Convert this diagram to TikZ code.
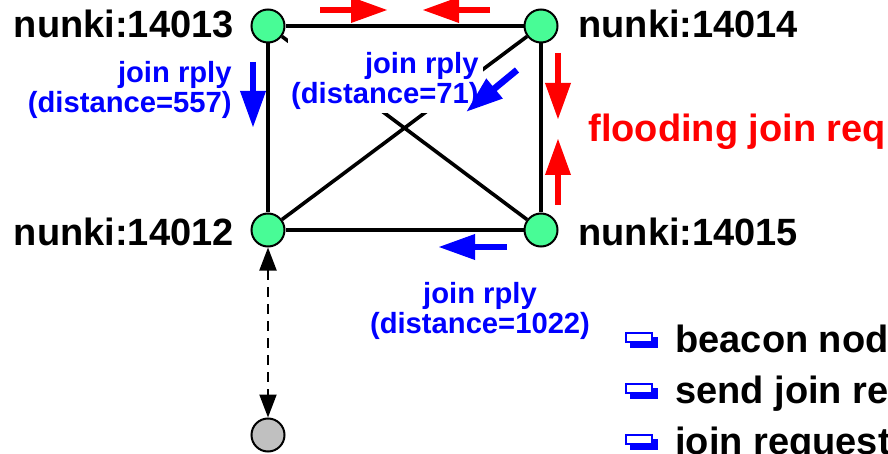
\documentclass[tikz,border=0pt]{standalone}
\usepackage{fontspec}
\setmainfont{Liberation Sans}
\usetikzlibrary{arrows.meta}

\definecolor{peergreen}{RGB}{72,252,150}
\definecolor{beacongray}{RGB}{192,192,192}

\tikzset{
  peer/.style={circle, draw, line width=1pt, fill=peergreen, minimum size=16.5pt, inner sep=0pt},
  beacon/.style={peer, fill=beacongray},
  link/.style={line width=1.8pt},
  hostname/.style={font=\fontsize{19}{21}\selectfont\bfseries, inner sep=0pt},
  rply/.style={text=blue, font=\fontsize{14.6}{15}\selectfont\bfseries, inner sep=0pt},
  flow/.style={line width=3.3pt, -{Triangle[length=18.5pt, width=12pt]}},
  keyshadow/.style={fill=blue},
  keyface/.style={fill=white, draw=blue, line width=1pt},
}

\begin{document}
\begin{tikzpicture}[x=0.5pt, y=-0.5pt]
\useasboundingbox (0,0) rectangle (888,454);

% cluster of four peers and the beacon below
\node [peer] (A) at (268,26) {};
\node [peer] (B) at (541,26) {};
\node [peer] (C) at (268,230) {};
\node [peer] (D) at (541,230) {};
\node [beacon] (E) at (268,435) {};

\node [hostname, anchor=base east] (LA) at (234,38) {nunki:14013};
\node [hostname, anchor=base west] (LB) at (578,38) {nunki:14014};
\node [hostname, anchor=base east] (LC) at (234,246) {nunki:14012};
\node [hostname, anchor=base west] (LD) at (578,246) {nunki:14015};

\draw [link] (A) -- (B);
\draw [link] (A) -- (C);
\draw [link] (B) -- (D);
\draw [link] (C) -- (D);
\draw [link] (A) -- (D);
\draw [link] (C) -- (B);

\draw [line width=1pt, dash pattern=on 5pt off 3.5pt,
  {Triangle[length=11.5pt, width=8.5pt]}-{Triangle[length=11.5pt, width=8.5pt]}] (C) -- (E);

% replies
\fill [white] (288,38) rectangle (483,113);
\node [rply, align=right, anchor=base east] (R1) at (232,113) {join rply\\(distance=557)};
\node [rply, align=right, anchor=base east] (R2) at (479,104) {join rply\\(distance=71)};
\node [rply, align=center, anchor=base] (R3) at (480,333) {join rply\\(distance=1022)};

\draw [flow, blue] (253,62) -- (253,128);
\draw [flow, blue] (517,70) -- (466,112);
\draw [flow, blue] (507,247) -- (438,247);

% flooding
\draw [flow, red] (320,10) -- (388,10);
\draw [flow, red] (490,10) -- (422,10);
\draw [flow, red] (558,53) -- (558,120);
\draw [flow, red] (558,205) -- (558,138);
\node [hostname, text=red, anchor=base west] (F) at (588,142) {flooding join req};

% legend
\fill [keyshadow] (630,337) rectangle (658,348);
\filldraw [keyface] (626,333) rectangle (652,342);
\node [hostname, anchor=base west] (K1) at (675,352) {beacon nod};
\fill [keyshadow] (630,388) rectangle (658,399);
\filldraw [keyface] (626,384) rectangle (652,393);
\node [hostname, anchor=base west] (K2) at (675,403) {send join re};
\fill [keyshadow] (630,439) rectangle (658,450);
\filldraw [keyface] (626,435) rectangle (652,444);
\node [hostname, anchor=base west] (K3) at (675,454) {join request};

\end{tikzpicture}
\end{document}
